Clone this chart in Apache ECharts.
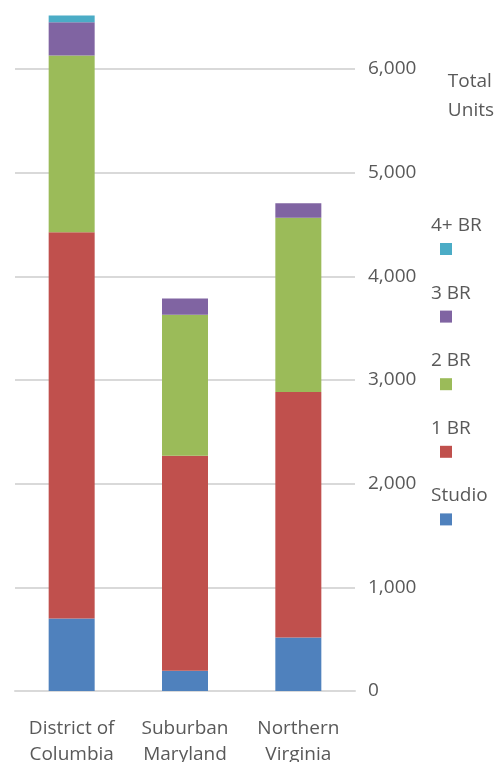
<!DOCTYPE html>
<html>
<head>
<meta charset="utf-8">
<style>
  html, body { margin: 0; padding: 0; background: #ffffff; overflow: hidden; }
  #chart { width: 498px; height: 762px; }
</style>
<script src="https://cdn.jsdelivr.net/npm/echarts@6/dist/echarts.min.js"></script>
</head>
<body>
<div id="chart"></div>
<script>
// Housing units by jurisdiction and bedroom count
const categories = ['District of\nColumbia', 'Suburban\nMaryland', 'Northern\nVirginia'];
const unitTypes = ['Studio', '1 BR', '2 BR', '3 BR', '4+ BR'];
const studio = [700, 195, 515];
const oneBR = [3725, 2075, 2370];
const twoBR = [1705, 1360, 1680];
const threeBR = [320, 155, 140];
const fourPlusBR = [65, 0, 0];
const yTicks = [0, 1000, 2000, 3000, 4000, 5000, 6000, 7000];

const seriesValues = [studio, oneBR, twoBR, threeBR, fourPlusBR];
const colors = ['#4F81BD', '#C0504D', '#9BBB59', '#8064A2', '#4BACC6'];
const font = '"Open Sans", Lato, sans-serif';
const textColor = '#595959';

const chart = echarts.init(document.getElementById('chart'), null, { renderer: 'canvas' });

// Legend: label above a small swatch, topmost series first
const legendGraphics = [];
unitTypes.slice().reverse().forEach((name, k) => {
  const idx = unitTypes.length - 1 - k;
  const y0 = 225 + k * 67.6;
  legendGraphics.push({
    type: 'text', left: 431, top: y0 - 9,
    style: { text: name, font: '19px ' + font, fill: textColor }
  });
  legendGraphics.push({
    type: 'rect', shape: { x: 440, y: y0 + 18, width: 12, height: 12 },
    style: { fill: colors[idx] }
  });
});
legendGraphics.push({
  type: 'text', right: 4, top: 67,
  style: { text: 'Total\nUnits', font: '19px ' + font, fill: textColor, align: 'right', lineHeight: 29 }
});

chart.setOption({
  animation: false,
  color: colors,
  // the 7,000 gridline lies just above the visible area
  grid: { left: 15, right: 143, top: -34.7, bottom: 71, containLabel: false, outerBoundsMode: 'none' },
  xAxis: {
    type: 'category',
    data: categories,
    axisLine: { show: true, lineStyle: { color: '#d9d9d9', width: 2 } },
    axisTick: { show: false },
    axisLabel: { color: textColor, fontFamily: font, fontSize: 19, lineHeight: 26, margin: 25, interval: 0 }
  },
  yAxis: {
    type: 'value',
    position: 'right',
    min: yTicks[0],
    max: yTicks[yTicks.length - 1],
    interval: yTicks[1] - yTicks[0],
    axisLine: { show: false },
    axisTick: { show: false },
    splitLine: { lineStyle: { color: '#d9d9d9', width: 2 } },
    axisLabel: {
      color: textColor, fontFamily: font, fontSize: 19, margin: 13,
      formatter: v => v.toLocaleString('en-US')
    }
  },
  series: unitTypes.map((name, i) => ({
    name: name,
    type: 'bar',
    stack: 'units',
    barWidth: 46,
    data: seriesValues[i],
    itemStyle: { color: colors[i] }
  })),
  graphic: legendGraphics
});
</script>
</body>
</html>
